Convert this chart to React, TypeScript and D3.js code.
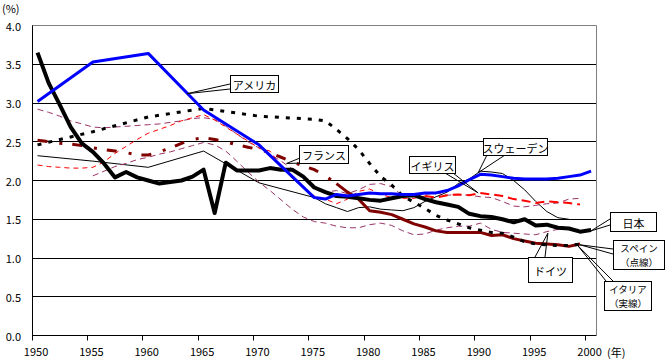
import React from 'react';
import * as d3 from 'd3';

const W = 668;
const H = 359;

const yTicks = [0, 0.5, 1.0, 1.5, 2.0, 2.5, 3.0, 3.5, 4.0];
const xTickYears = [1950, 1955, 1960, 1965, 1970, 1975, 1980, 1985, 1990, 1995, 2000];

// 日本 (annual 1950-2000)
const japanYears = [1950,1951,1952,1953,1954,1955,1956,1957,1958,1959,1960,1961,1962,1963,1964,1965,1966,1967,1968,1969,1970,1971,1972,1973,1974,1975,1976,1977,1978,1979,1980,1981,1982,1983,1984,1985,1986,1987,1988,1989,1990,1991,1992,1993,1994,1995,1996,1997,1998,1999,2000];
const japanValues = [3.65,3.26,2.98,2.69,2.48,2.37,2.22,2.04,2.11,2.04,2.00,1.96,1.98,2.00,2.05,2.14,1.58,2.23,2.13,2.13,2.13,2.16,2.14,2.14,2.05,1.91,1.85,1.80,1.79,1.77,1.75,1.74,1.77,1.80,1.81,1.76,1.72,1.69,1.66,1.57,1.54,1.53,1.50,1.46,1.50,1.42,1.43,1.39,1.38,1.34,1.36];

// アメリカ
const usaYears = [1950,1955,1960,1965,1970,1975,1976,1977,1978,1979,1980,1981,1982,1983,1984,1985,1986,1987,1988,1989,1990,1991,1992,1993,1994,1995,1996,1997,1998,1999,2000];
const usaValues = [3.02,3.53,3.64,2.91,2.46,1.78,1.76,1.82,1.80,1.82,1.84,1.83,1.83,1.82,1.82,1.84,1.84,1.87,1.93,2.01,2.08,2.07,2.05,2.03,2.02,2.02,2.02,2.03,2.05,2.07,2.12];

// スウェーデン
const swedenYears = [1950,1955,1960,1965,1970,1975,1976,1977,1978,1979,1980,1981,1982,1983,1984,1985,1986,1987,1988,1989,1990,1991,1992,1993,1994,1995,1996,1997,1998];
const swedenValues = [2.32,2.25,2.17,2.38,1.97,1.78,1.70,1.65,1.60,1.65,1.66,1.63,1.62,1.61,1.65,1.73,1.79,1.85,1.96,2.02,2.12,2.11,2.09,2.00,1.88,1.73,1.60,1.52,1.50];

// スペイン（点線）
const spainYears = [1950,1955,1960,1965,1970,1975,1976,1977,1978,1979,1980,1981,1982,1983,1984,1985,1986,1987,1988,1989,1990,1991,1992,1993,1994,1995,1996,1997,1998,1999];
const spainValues = [2.46,2.63,2.82,2.93,2.83,2.79,2.77,2.66,2.54,2.40,2.22,2.05,1.94,1.80,1.72,1.64,1.55,1.49,1.44,1.39,1.36,1.33,1.32,1.27,1.21,1.18,1.17,1.16,1.16,1.18];

// イタリア（実線）
const italyYears = [1950,1951,1952,1953,1954,1955,1956,1957,1958,1959,1960,1961,1962,1963,1964,1965,1966,1967,1968,1969,1970,1971,1972,1973,1974,1975,1976,1977,1978,1979,1980,1981,1982,1983,1984,1985,1986,1987,1988,1989,1990,1991,1992,1993,1994,1995,1996,1997,1998,1999];
const italyValues = [2.52,2.50,2.48,2.47,2.45,2.42,2.40,2.38,2.36,2.33,2.33,2.37,2.42,2.48,2.53,2.55,2.53,2.50,2.46,2.43,2.40,2.36,2.30,2.24,2.19,2.14,2.06,1.96,1.85,1.76,1.61,1.59,1.56,1.50,1.44,1.40,1.35,1.33,1.33,1.33,1.33,1.29,1.30,1.25,1.22,1.19,1.18,1.17,1.15,1.18];

// イギリス
const ukYears = [1950,1951,1952,1953,1954,1955,1956,1957,1958,1959,1960,1961,1962,1963,1964,1965,1966,1967,1968,1969,1970,1971,1972,1973,1974,1975,1976,1977,1978,1979,1980,1981,1982,1983,1984,1985,1986,1987,1988,1989,1990,1991,1992,1993,1994,1995,1996,1997,1998,1999];
const ukValues = [2.20,2.18,2.17,2.16,2.16,2.17,2.24,2.35,2.44,2.53,2.61,2.66,2.71,2.77,2.81,2.85,2.78,2.69,2.60,2.51,2.42,2.38,2.18,2.03,1.92,1.80,1.76,1.70,1.76,1.86,1.89,1.82,1.78,1.77,1.77,1.80,1.78,1.81,1.82,1.81,1.84,1.82,1.80,1.76,1.74,1.71,1.73,1.72,1.71,1.69];

// フランス
const franceYears = [1950,1951,1952,1953,1954,1955,1956,1957,1958,1959,1960,1961,1962,1963,1964,1965,1966,1967,1968,1969,1970,1971,1972,1973,1974,1975,1976,1977,1978,1979,1980,1981,1982,1983,1984,1985,1986,1987,1988,1989,1990,1991,1992,1993,1994,1995,1996,1997,1998,1999];
const franceValues = [2.92,2.88,2.83,2.77,2.73,2.69,2.68,2.69,2.70,2.71,2.72,2.73,2.75,2.77,2.80,2.81,2.79,2.70,2.60,2.50,2.42,2.34,2.25,2.15,2.04,1.93,1.85,1.87,1.83,1.88,1.95,1.96,1.92,1.80,1.81,1.82,1.84,1.81,1.82,1.81,1.79,1.78,1.73,1.67,1.66,1.68,1.70,1.71,1.76,1.77];

// ドイツ
const germanyYears = [1955,1956,1957,1958,1959,1960,1961,1962,1963,1964,1965,1966,1967,1968,1969,1970,1971,1972,1973,1974,1975,1976,1977,1978,1979,1980,1981,1982,1983,1984,1985,1986,1987,1988,1989,1990,1991,1992,1993,1994,1995,1996,1997,1998,1999];
const germanyValues = [2.06,2.12,2.18,2.22,2.27,2.30,2.34,2.37,2.41,2.45,2.49,2.46,2.38,2.25,2.11,1.98,1.87,1.75,1.63,1.53,1.47,1.45,1.41,1.39,1.39,1.43,1.45,1.42,1.35,1.30,1.31,1.36,1.39,1.41,1.41,1.45,1.37,1.33,1.32,1.31,1.30,1.34,1.37,1.37,1.37];

// callout labels
const calloutTexts = [['アメリカ'], ['フランス'], ['イギリス'], ['スウェーデン'], ['日本'], ['スペイン', '（点線）'], ['イタリア', '（実線）'], ['ドイツ']];
const calloutTipYears = [1963.5, 1972.5, 1989.8, 1989.8, 2000, 1999, 1998.8, 1996.1];
const calloutTipValues = [3.12, 2.22, 1.84, 2.10, 1.35, 1.17, 1.16, 1.32];

const FONT = "'Noto Sans CJK JP', 'Noto Sans', sans-serif";

export default function App() {
  const x = d3.scaleLinear().domain([1949.5, 2000.5]).range([32, 596.6]);
  const y = d3.scaleLinear().domain([0, 4]).range([335.5, 25.5]);
  const line = d3.line<[number, number]>().x(d => x(d[0])).y(d => y(d[1]));
  const pts = (ys: number[], vs: number[], from = -Infinity, to = Infinity) =>
    ys.map((yr, i) => [yr, vs[i]] as [number, number]).filter(d => d[0] >= from && d[0] <= to);

  const left = x(1949.5);
  const right = x(2000.5);
  const top = y(4);
  const bottom = y(0);
  const snap = (v: number) => Math.round(v - 0.5) + 0.5;

  // box layout for callouts (pixels)
  const boxes = [
    { bx: 230, by: 75, bw: 48, bh: 17, b1: [230, 84], b2: [230, 89] },
    { bx: 299, by: 145, bw: 49, bh: 18, b1: [300, 158], b2: [306, 163] },
    { bx: 409, by: 156, bw: 46, bh: 17, b1: [445, 173], b2: [453, 173] },
    { bx: 483, by: 138, bw: 64, bh: 17, b1: [487, 155], b2: [505, 155] },
    { bx: 610, by: 212, bw: 46, bh: 19, b1: [610, 219], b2: [610, 225] },
    { bx: 613, by: 240, bw: 51, bh: 29, b1: [613, 249], b2: [613, 254] },
    { bx: 604, by: 281, bw: 47, bh: 29, b1: [606, 281], b2: [613, 281] },
    { bx: 528, by: 257, bw: 44, bh: 25, b1: [535, 257], b2: [545, 257] },
  ];

  return (
    <svg width={W} height={H} style={{ position: 'absolute', left: 0, top: 0, background: '#fff' }} fontFamily={FONT}>
      <rect x={0} y={0} width={W} height={H} fill="#fff" />
      {/* grid */}
      {yTicks.map(t => {
        const yy = snap(y(t));
        const isTop = t === 4;
        return (
          <line key={'g' + t} x1={left} x2={right} y1={yy} y2={yy}
            stroke={isTop ? '#808080' : '#000'} strokeWidth={1} />
        );
      })}
      <line x1={snap(right)} x2={snap(right)} y1={snap(top)} y2={snap(bottom)} stroke="#808080" strokeWidth={1} />
      <line x1={snap(left)} x2={snap(left)} y1={snap(top)} y2={snap(bottom)} stroke="#000" strokeWidth={1} />
      {xTickYears.map(yr => (
        <line key={'t' + yr} x1={snap(x(yr - 0.5))} x2={snap(x(yr - 0.5))} y1={snap(bottom)} y2={snap(bottom) + 5} stroke="#000" />
      ))}
      {/* y labels */}
      {yTicks.map(t => (
        <text key={'yl' + t} x={21} y={y(t)} fontSize={11} textAnchor="end" dominantBaseline="central" fill="#000">
          {t.toFixed(1)}
        </text>
      ))}
      {xTickYears.map(yr => (
        <text key={'xl' + yr} x={x(yr) - 1.5} y={351} fontSize={11} textAnchor="middle" dominantBaseline="central" fill="#000">
          {yr}
        </text>
      ))}
      <text x={2} y={8} fontSize={11} dominantBaseline="central" fill="#000">(%)</text>
      <text x={607} y={352} fontSize={11} dominantBaseline="central" fill="#000">(年)</text>

      {/* series */}
      <path d={line(pts(swedenYears, swedenValues)) || ''} fill="none" stroke="#000" strokeWidth={1} />
      <path d={line(pts(franceYears, franceValues)) || ''} fill="none" stroke="#993366" strokeWidth={1} strokeDasharray="6,4" />
      <path d={line(pts(germanyYears, germanyValues)) || ''} fill="none" stroke="#993366" strokeWidth={1} strokeDasharray="6,4" />
      <path d={line(pts(ukYears, ukValues, 1950, 1985)) || ''} fill="none" stroke="#ff0000" strokeWidth={1} strokeDasharray="5,4" />
      <path d={line(pts(ukYears, ukValues, 1985, 2000)) || ''} fill="none" stroke="#ff0000" strokeWidth={2} strokeDasharray="9,5" />
      <path d={line(pts(italyYears, italyValues, 1950, 1977)) || ''} fill="none" stroke="#800000" strokeWidth={3} strokeDasharray="10,12,3,10" />
      <path d={line(pts(italyYears, italyValues, 1977, 2000)) || ''} fill="none" stroke="#800000" strokeWidth={3} strokeLinejoin="round" />
      <path d={line(pts(spainYears, spainValues)) || ''} fill="none" stroke="#000" strokeWidth={3} strokeDasharray="4,7" />
      <path d={line(pts(japanYears, japanValues)) || ''} fill="none" stroke="#000" strokeWidth={4} strokeLinejoin="round" />
      <path d={line(pts(usaYears, usaValues)) || ''} fill="none" stroke="#0000ff" strokeWidth={3} strokeLinejoin="round" />

      {/* callouts */}
      {calloutTexts.map((lines, i) => {
        const b = boxes[i];
        const tx = x(calloutTipYears[i]);
        const ty = y(calloutTipValues[i]);
        return (
          <g key={'c' + i}>
            <line x1={b.b1[0]} y1={b.b1[1]} x2={tx} y2={ty} stroke="#000" strokeWidth={1} />
            <line x1={b.b2[0]} y1={b.b2[1]} x2={tx} y2={ty} stroke="#000" strokeWidth={1} />
            <rect x={b.bx + 0.5} y={b.by + 0.5} width={b.bw} height={b.bh} fill="#fff" stroke="#000" strokeWidth={1} />
            {lines.map((s, j) => (
              <text key={j} x={b.bx + b.bw / 2 + 0.5}
                y={lines.length === 1 ? b.by + b.bh / 2 + 1 : b.by + 8 + j * 14}
                fontSize={lines.length === 1 ? 11 : 9.5} textAnchor="middle" dominantBaseline="central" fill="#000">
                {s}
              </text>
            ))}
          </g>
        );
      })}
    </svg>
  );
}
